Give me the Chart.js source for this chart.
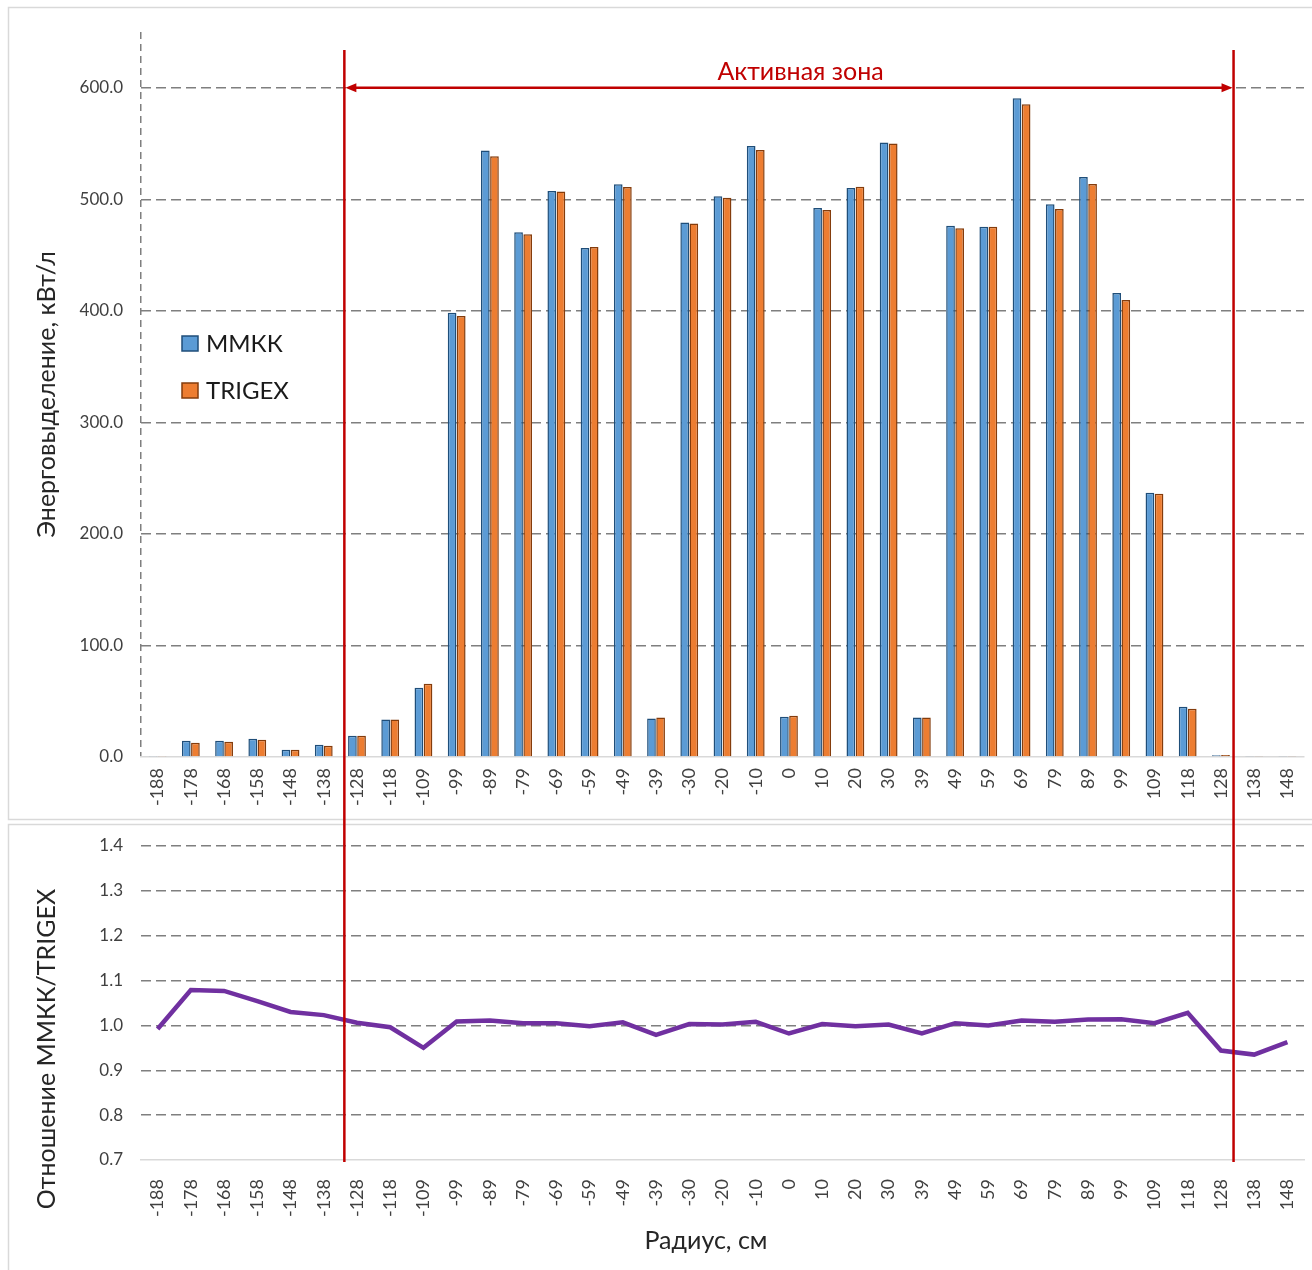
<!DOCTYPE html>
<html>
<head>
<meta charset="utf-8">
<script src="https://cdn.jsdelivr.net/npm/chart.js@4.4.1/dist/chart.umd.min.js"></script>
<style>
  html, body { margin: 0; padding: 0; background: #fff; }
  #wrap { position: relative; width: 1312px; height: 1270px; overflow: hidden; }
  #power { position: absolute; left: 0; top: 0; }
  #ratio { position: absolute; left: 0; top: 822px; }
</style>
</head>
<body>
<div id="wrap">
  <canvas id="power" width="1312" height="822"></canvas>
  <canvas id="ratio" width="1312" height="448"></canvas>
</div>
<script>
// radius positions, cm
const radius = ['-188','-178','-168','-158','-148','-138','-128','-118','-109','-99','-89','-79','-69','-59','-49','-39','-30','-20','-10','0',
                '10','20','30','39','49','59','69','79','89','99','109','118','128','138','148'];

// power density, kW/l
const mmkk   = [1.0, 14.6, 14.6, 16.4, 6.6, 11.0, 19.1, 33.7, 62.0, 398.3, 543.8, 470.5, 507.4, 456.4, 513.4, 34.6, 479.2, 502.7, 547.7, 36.1,
                492.2, 510.1, 551.0, 35.5, 476.4, 475.5, 590.6, 495.5, 520.0, 415.9, 237.0, 45.0, 1.6, 0.5, 0.5];
const trigex = [1.0, 12.8, 13.7, 15.5, 6.5, 10.1, 19.1, 33.7, 65.6, 395.3, 538.7, 468.7, 506.9, 457.3, 511.0, 35.5, 478.2, 501.5, 544.1, 37.0,
                490.4, 511.3, 550.1, 35.5, 474.1, 475.5, 585.3, 491.4, 513.7, 409.7, 236.0, 43.2, 1.7, 0.5, 0.5];

// MMKK / TRIGEX
const ratio  = [0.992, 1.079, 1.077, 1.054, 1.030, 1.023, 1.006, 0.996, 0.950, 1.009, 1.011, 1.005, 1.005, 0.998, 1.007, 0.979, 1.003, 1.002, 1.008, 0.982,
                1.003, 0.998, 1.002, 0.982, 1.005, 1.000, 1.011, 1.008, 1.013, 1.014, 1.005, 1.028, 0.944, 0.935, 0.963];

// core boundaries (as category index, ~±132 cm)
const zoneEdges = [5.62, 32.38];
const zoneLabel = 'Активная зона';

const FONT = 'Lato';
const RED = '#C00000';
const GRID = '#7f7f7f';
const AXIS = '#d9d9d9';
const TXT = '#404040';

function panel(top, height) {
  return {
    id: 'panel',
    beforeDraw(chart) {
      const ctx = chart.ctx;
      ctx.save();
      ctx.fillStyle = '#fff';
      ctx.fillRect(0, 0, chart.width, chart.height);
      ctx.strokeStyle = AXIS;
      ctx.lineWidth = 1.5;
      ctx.strokeRect(8.5, top, chart.width + 10, height);
      ctx.restore();
    }
  };
}

function zoneLines(fromTop, withArrow) {
  return {
    id: 'zone',
    afterDraw(chart) {
      const { ctx, chartArea } = chart;
      const x = chart.scales.x, y = chart.scales.y;
      const x1 = x.getPixelForValue(zoneEdges[0]);
      const x2 = x.getPixelForValue(zoneEdges[1]);
      const yTop = fromTop ? chartArea.top + 18 : 0;
      const yBot = fromTop ? chart.height : chartArea.bottom + 2;
      ctx.save();
      ctx.strokeStyle = RED;
      ctx.fillStyle = RED;
      ctx.lineWidth = 2.5;
      ctx.beginPath();
      ctx.moveTo(x1, yTop); ctx.lineTo(x1, yBot);
      ctx.moveTo(x2, yTop); ctx.lineTo(x2, yBot);
      ctx.stroke();
      if (withArrow) {
        const ya = y.getPixelForValue(600);
        ctx.beginPath();
        ctx.moveTo(x1 + 8, ya); ctx.lineTo(x2 - 8, ya);
        ctx.stroke();
        ctx.beginPath();
        ctx.moveTo(x1 + 1, ya); ctx.lineTo(x1 + 12, ya - 4.5); ctx.lineTo(x1 + 12, ya + 4.5); ctx.closePath();
        ctx.moveTo(x2 - 1, ya); ctx.lineTo(x2 - 12, ya - 4.5); ctx.lineTo(x2 - 12, ya + 4.5); ctx.closePath();
        ctx.fill();
        ctx.font = '25px ' + FONT;
        ctx.textAlign = 'center';
        ctx.textBaseline = 'alphabetic';
        ctx.fillText(zoneLabel, x.getPixelForValue(19.35), ya - 8);
      }
      ctx.restore();
    }
  };
}

const legendBox = {
  id: 'legendBox',
  afterDraw(chart) {
    const { ctx, chartArea } = chart;
    ctx.save();
    ctx.font = '24px ' + FONT;
    ctx.textBaseline = 'middle';
    chart.data.datasets.forEach((ds, i) => {
      const lx = chartArea.left + 41, ly = 336 + i * 47;
      ctx.fillStyle = ds.backgroundColor;
      ctx.strokeStyle = ds.borderColor;
      ctx.lineWidth = 1.5;
      ctx.fillRect(lx, ly, 16, 15);
      ctx.strokeRect(lx, ly, 16, 15);
      ctx.fillStyle = '#1a1a1a';
      ctx.fillText(ds.label, lx + 24, ly + 8);
    });
    ctx.restore();
  }
};

const ratioTitles = {
  id: 'ratioTitles',
  afterDraw(chart) {
    const ctx = chart.ctx;
    ctx.save();
    ctx.fillStyle = '#262626';
    ctx.font = '25px ' + FONT;
    ctx.textAlign = 'center';
    ctx.textBaseline = 'middle';
    ctx.fillText('Радиус, см', 706, 419);
    ctx.translate(47, 227);
    ctx.rotate(-Math.PI / 2);
    ctx.fillText('Отношение ММКК/TRIGEX', 0, 0);
    ctx.restore();
  }
};

const xTicks = {
  autoSkip: false, minRotation: 90, maxRotation: 90, padding: 11,
  font: { family: FONT, size: 18 }, color: TXT
};

const noSidePad = s => { s.paddingLeft = 0; s.paddingRight = 0; };
const noEndPad = s => { s.paddingTop = 0; s.paddingBottom = 0; };

new Chart(document.getElementById('power'), {
  type: 'bar',
  data: {
    labels: radius,
    datasets: [
      { label: 'ММКК', data: mmkk, backgroundColor: '#5B9BD5', borderColor: '#1F4E79', borderWidth: 1.5, borderSkipped: 'bottom' },
      { label: 'TRIGEX', data: trigex, backgroundColor: '#ED7D31', borderColor: '#843C0C', borderWidth: 1.5, borderSkipped: 'bottom' }
    ]
  },
  options: {
    responsive: false,
    animation: false,
    layout: { padding: { top: 32, left: 8, right: 8, bottom: 0 } },
    datasets: { bar: { categoryPercentage: 0.55, barPercentage: 0.95 } },
    plugins: { legend: { display: false }, tooltip: { enabled: false } },
    scales: {
      x: {
        ticks: xTicks,
        grid: { drawTicks: false, lineWidth: 1.5, color: c => c.index === 0 ? GRID : 'rgba(0,0,0,0)' },
        border: { display: true, color: AXIS, width: 1.5, dash: [7, 5] },
        afterFit: s => { s.height = 65; noSidePad(s); }
      },
      y: {
        min: 0, max: 650,
        afterBuildTicks: s => { s.ticks = s.ticks.filter(t => t.value <= 600); },
        ticks: { stepSize: 100, padding: 18, callback: v => v.toFixed(1), font: { family: FONT, size: 17 }, color: TXT },
        grid: { drawTicks: false, lineWidth: 1.5, color: c => (c.tick && c.tick.value === 0) ? 'rgba(0,0,0,0)' : GRID },
        border: { display: false, dash: [10, 5] },
        title: { display: true, text: 'Энерговыделение, кВт/л', font: { family: FONT, size: 25 }, color: '#262626', padding: { top: 24, bottom: 0 } },
        afterFit: s => { s.width = 133; noEndPad(s); }
      }
    }
  },
  plugins: [panel(7.5, 812), legendBox, zoneLines(true, true)]
});

new Chart(document.getElementById('ratio'), {
  type: 'line',
  data: {
    labels: radius,
    datasets: [
      { label: 'ММКК/TRIGEX', data: ratio, borderColor: '#7030A0', borderWidth: 4.5, pointRadius: 0, tension: 0, fill: false }
    ]
  },
  options: {
    responsive: false,
    animation: false,
    layout: { padding: { top: 24, left: 8, right: 8, bottom: 0 } },
    plugins: { legend: { display: false }, tooltip: { enabled: false } },
    scales: {
      x: {
        offset: true,
        ticks: xTicks,
        grid: { display: false },
        border: { display: true, color: AXIS, width: 1.5 },
        afterFit: s => { s.height = 110; noSidePad(s); }
      },
      y: {
        min: 0.7, max: 1.4,
        ticks: { stepSize: 0.1, padding: 18, callback: v => v.toFixed(1), font: { family: FONT, size: 17 }, color: TXT },
        grid: { drawTicks: false, lineWidth: 1.5, color: c => (c.tick && c.tick.value < 0.75) ? 'rgba(0,0,0,0)' : GRID },
        border: { display: false, dash: [10, 5] },
        afterFit: s => { s.width = 133; noEndPad(s); }
      }
    }
  },
  plugins: [panel(2.5, 470), ratioTitles, zoneLines(false, false)]
});
</script>
</body>
</html>
